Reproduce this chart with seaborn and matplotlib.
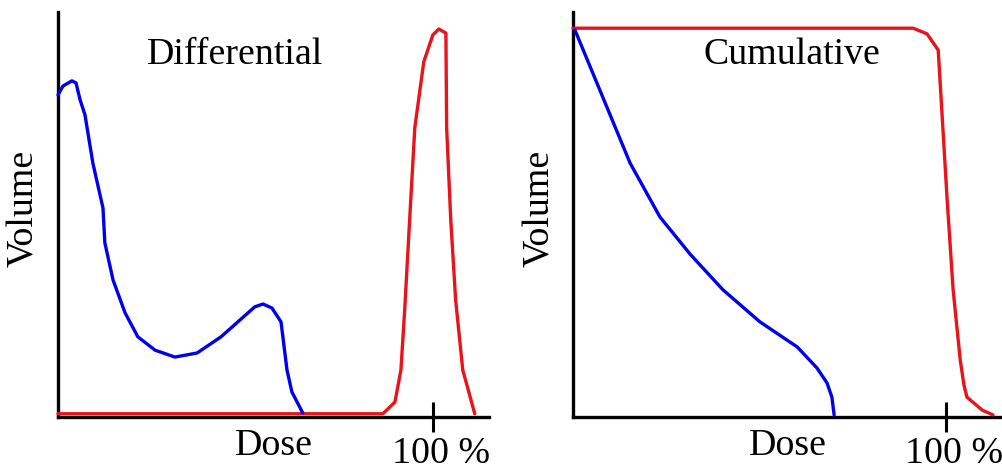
import matplotlib
matplotlib.use("Agg")
import matplotlib.pyplot as plt
import matplotlib.transforms as mtransforms
import seaborn as sns
import pandas as pd

# Differential DVH (dose %, relative volume)
diff_blue_dose = [0, 1.3, 3.7, 4.8, 5.9, 7.2, 9.3, 12.0, 12.5, 14.7, 17.9, 21.3, 25.9, 31.2,
                  37.1, 43.5, 49.1, 52.5, 54.7, 57.1, 59.5, 61.1, 62.4, 65.3]
diff_blue_vol = [79.5, 81.7, 83.0, 82.5, 78.3, 74.6, 62.7, 51.6, 43.0, 33.8, 25.7, 19.8, 16.5, 14.8,
                 15.8, 19.8, 24.4, 27.2, 27.9, 26.9, 23.5, 11.6, 6.2, 1.0]
diff_red_dose = [0, 86.7, 89.9, 91.5, 92.5, 93.9, 95.2, 97.6, 100.0, 101.6, 103.5, 103.7,
                 104.8, 106.1, 108.0, 109.1, 111.2]
diff_red_vol = [0.8, 0.8, 3.7, 11.6, 26.4, 49.9, 71.4, 87.7, 94.3, 95.8, 94.8, 71.4,
                48.6, 28.9, 11.6, 7.9, 0.8]

# Cumulative DVH
cum_blue_dose = [0.5, 15.3, 23.3, 31.4, 40.2, 50.1, 60.1, 65.4, 68.1, 69.4, 70.0]
cum_blue_vol = [95.6, 62.7, 49.4, 40.2, 31.4, 23.5, 17.3, 12.1, 8.4, 4.9, 0.5]
cum_red_dose = [0, 91.2, 94.9, 97.9, 98.7, 100.3, 101.9, 103.8, 104.8, 105.6, 109.7, 112.6]
cum_red_vol = [96.0, 96.0, 94.6, 90.6, 78.3, 53.6, 31.4, 14.1, 7.9, 4.9, 1.7, 0.5]

titles = ["Differential", "Cumulative"]
xlabel = "Dose"
ylabel = "Volume"
tick_value = 100
tick_label = "100 %"

BLUE = "#0000EE"
RED = "#E8131B"

sns.set_style("white")
plt.rcParams["font.family"] = ["Liberation Serif", "DejaVu Serif"]
plt.rcParams["text.color"] = "black"
FS = 27.3

fig = plt.figure(figsize=(10.02, 4.70), dpi=100)
ax1 = fig.add_axes([58 / 1002, 1 - 417 / 470, (489 - 58) / 1002, (417 - 12) / 470])
ax2 = fig.add_axes([573 / 1002, 1 - 417 / 470, (1002 - 573) / 1002, (417 - 12) / 470])

panels = [
    (ax1, diff_blue_dose, diff_blue_vol, diff_red_dose, diff_red_vol, titles[0], 0.41, -0.079),
    (ax2, cum_blue_dose, cum_blue_vol, cum_red_dose, cum_red_vol, titles[1], 0.51, -0.077),
]

for ax, bd, bv, rd, rv, title, tx, ylx in panels:
    dfb = pd.DataFrame({"dose": bd, "vol": bv})
    dfr = pd.DataFrame({"dose": rd, "vol": rv})
    sns.lineplot(data=dfr, x="dose", y="vol", ax=ax, color=RED, lw=2.4,
                 sort=False, estimator=None, clip_on=False, zorder=4)
    sns.lineplot(data=dfb, x="dose", y="vol", ax=ax, color=BLUE, lw=2.4,
                 sort=False, estimator=None, clip_on=False, zorder=5)
    ax.set_xlim(0, 115)
    ax.set_ylim(0, 100)
    for s in ["top", "right"]:
        ax.spines[s].set_visible(False)
    for s in ["left", "bottom"]:
        ax.spines[s].set_color("black")
        ax.spines[s].set_linewidth(2.4)
    ax.set_yticks([])
    ax.set_xticks([tick_value])
    ax.set_xticklabels([""])
    ax.tick_params(axis="x", direction="inout", length=22, width=2.2, color="black",
                   bottom=True)
    ax.set_xlabel("")
    ax.set_ylabel("")
    trans = mtransforms.blended_transform_factory(ax.transData, ax.transAxes)
    ax.text(tick_value + 2.1, -0.113, tick_label, transform=trans, ha="center",
            va="baseline", fontsize=FS, color="black")
    ax.text(ylx, 0.514, ylabel, transform=ax.transAxes, rotation=90, ha="center",
            va="center", fontsize=FS, color="black")
    ax.text(0.5, -0.07, xlabel, transform=ax.transAxes, ha="center", va="center",
            fontsize=FS, color="black")
    ax.text(tx, 0.895, title, transform=ax.transAxes,
            ha="center", va="center", fontsize=FS, color="black")
    ax.set_facecolor("white")

fig.savefig("out.png", dpi=100, facecolor="white")
